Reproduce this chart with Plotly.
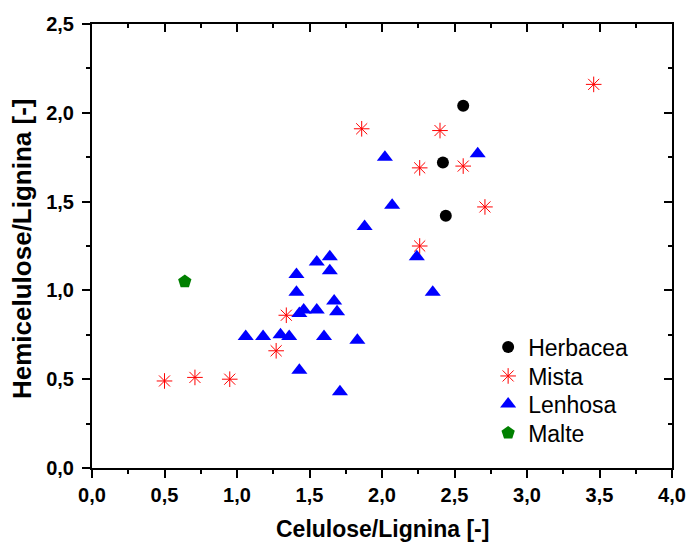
import plotly.graph_objects as go

# Herbacea
herb_x = [2.56, 2.42, 2.44]
herb_y = [2.04, 1.72, 1.42]
# Mista
mista_x = [3.46, 2.40, 2.26, 2.56, 2.71, 2.26, 1.86, 1.34, 1.27, 0.71, 0.95, 0.50]
mista_y = [2.16, 1.90, 1.69, 1.70, 1.47, 1.25, 1.91, 0.86, 0.66, 0.51, 0.50, 0.49]
# Lenhosa
len_x = [1.88, 1.55, 1.64, 1.64, 1.41, 1.41, 1.67, 1.46, 1.43, 1.55, 1.69, 1.06,
         1.18, 1.30, 1.36, 1.60, 1.83, 1.43, 1.71, 2.02, 2.66, 2.07, 2.24, 2.35]
len_y = [1.36, 1.16, 1.19, 1.11, 1.09, 0.99, 0.94, 0.89, 0.87, 0.89, 0.88, 0.74,
         0.74, 0.75, 0.74, 0.74, 0.72, 0.55, 0.43, 1.75, 1.77, 1.48, 1.19, 0.99]
# Malte
malte_x = [0.64]
malte_y = [1.05]

x_ticks = [0.0, 0.5, 1.0, 1.5, 2.0, 2.5, 3.0, 3.5, 4.0]
y_ticks = [0.0, 0.5, 1.0, 1.5, 2.0, 2.5]
x_title = "Celulose/Lignina [-]"
y_title = "Hemicelulose/Lignina [-]"

FONT = "Arial, 'Liberation Sans', sans-serif"

fig = go.Figure()
fig.add_trace(go.Scatter(x=herb_x, y=herb_y, mode="markers", name="Herbacea",
                         legend="legend",
                         marker=dict(symbol="circle", size=12, color="black")))
fig.add_trace(go.Scatter(x=mista_x, y=mista_y, mode="markers", name="Mista",
                         legend="legend2",
                         marker=dict(symbol="asterisk", size=13, color="red",
                                     line=dict(color="red", width=1))))
fig.add_trace(go.Scatter(x=len_x, y=len_y, mode="markers", name="Lenhosa",
                         legend="legend3",
                         marker=dict(symbol="triangle-up", size=14, color="blue")))
fig.add_trace(go.Scatter(x=malte_x, y=malte_y, mode="markers", name="Malte",
                         legend="legend4",
                         marker=dict(symbol="pentagon", size=14, color="green")))
# dummy trace to activate the mirror axes (top / right, inward ticks)
fig.add_trace(go.Scatter(x=[None], y=[None], xaxis="x2", yaxis="y2",
                         showlegend=False, hoverinfo="skip"))

tickfont = dict(family=FONT, size=20, color="black", weight="bold")
minor_out = dict(dtick=0.25, tick0=0, ticks="outside", ticklen=4,
                 tickwidth=2, tickcolor="black", showgrid=False)
minor_in = dict(dtick=0.25, tick0=0, ticks="inside", ticklen=4,
                tickwidth=2, tickcolor="black", showgrid=False)


def leg(ypos):
    return dict(x=0.683, y=ypos, xanchor="left", yanchor="middle",
                bgcolor="rgba(0,0,0,0)", borderwidth=0,
                font=dict(family=FONT, size=23, color="black"),
                itemsizing="trace")


fig.update_layout(
    width=691, height=544,
    margin=dict(l=92, r=19, t=24, b=76),
    paper_bgcolor="white", plot_bgcolor="white",
    separators=",.",
    font=dict(family=FONT, color="black"),
    xaxis=dict(range=[0, 4], tickvals=x_ticks, tickformat=".1f",
               showgrid=False, zeroline=False, automargin=False,
               showline=True, linecolor="black", linewidth=2, mirror=True,
               ticks="outside", ticklen=8, tickwidth=2, tickcolor="black",
               minor=minor_out, tickfont=tickfont, ticklabelstandoff=0),
    yaxis=dict(range=[0, 2.5], tickvals=y_ticks, tickformat=".1f",
               showgrid=False, zeroline=False, automargin=False,
               showline=True, linecolor="black", linewidth=2, mirror=True,
               ticks="outside", ticklen=8, tickwidth=2, tickcolor="black",
               minor=minor_out, tickfont=tickfont, ticklabelstandoff=4),
    xaxis2=dict(range=[0, 4], overlaying="x", side="top", anchor="y",
                tickvals=x_ticks, showticklabels=False, showgrid=False,
                zeroline=False, showline=False, automargin=False,
                ticks="inside", ticklen=8, tickwidth=2, tickcolor="black",
                minor=minor_in),
    yaxis2=dict(range=[0, 2.5], overlaying="y", side="right", anchor="x",
                tickvals=y_ticks, showticklabels=False, showgrid=False,
                zeroline=False, showline=False, automargin=False,
                ticks="inside", ticklen=8, tickwidth=2, tickcolor="black",
                minor=minor_in),
    legend=leg(0.2725),
    legend2=leg(0.2072),
    legend3=leg(0.1441),
    legend4=leg(0.0788),
    showlegend=True,
    annotations=[
        dict(text=x_title, xref="paper", yref="paper", x=0.5, y=0,
             xanchor="center", yanchor="middle", yshift=-61, showarrow=False,
             font=dict(family=FONT, size=23, color="black", weight="bold")),
        dict(text=y_title, xref="paper", yref="paper", x=0, y=0.5,
             xanchor="center", yanchor="middle", xshift=-70, yshift=-3,
             textangle=-90, showarrow=False,
             font=dict(family=FONT, size=26, color="black", weight="bold")),
    ],
)

fig.write_html("out.html")
